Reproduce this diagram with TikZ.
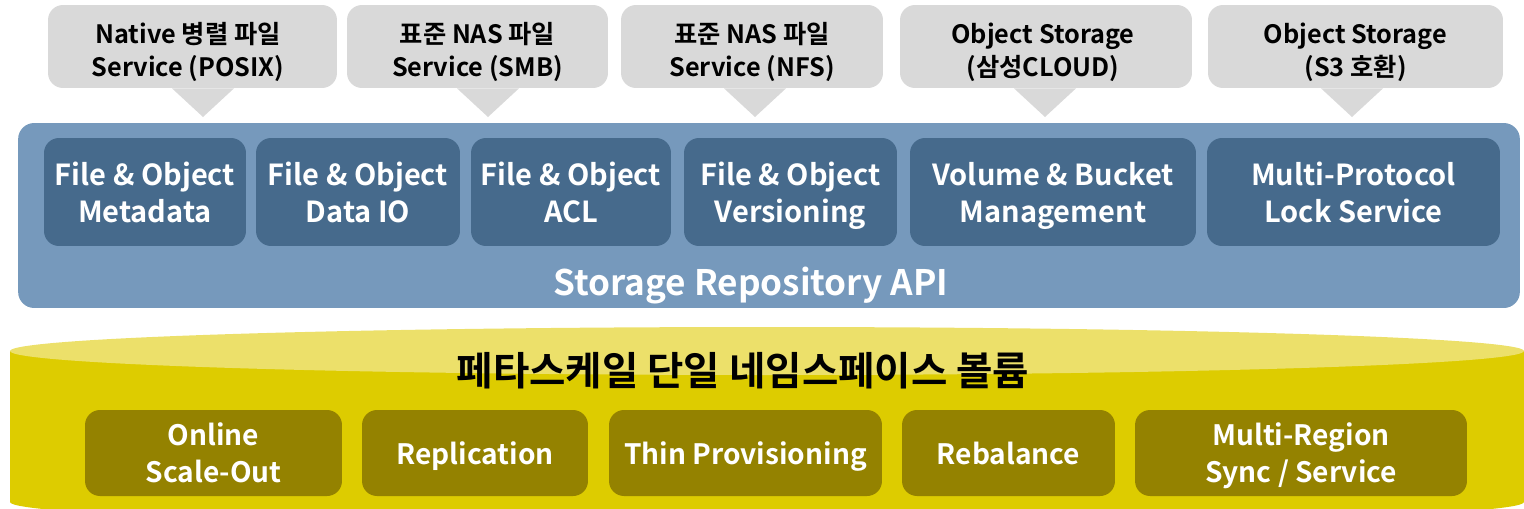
\documentclass[tikz,border=0pt]{standalone}
\usepackage{fontspec}
\setmainfont{Noto Sans CJK KR}[BoldFont={* Bold}]
\usepackage{tikz}
\usetikzlibrary{positioning}

\definecolor{callgray}{RGB}{217,217,217}
\definecolor{apiblue}{RGB}{118,153,188}
\definecolor{modblue}{RGB}{70,106,140}
\definecolor{cyltop}{RGB}{236,224,106}
\definecolor{cylbody}{RGB}{221,204,0}
\definecolor{featolive}{RGB}{148,130,0}

\tikzstyle{callout} = [fill=callgray, rounded corners=0.3cm, minimum height=1.66cm, align=center, font=\fontsize{14.4}{18.6}\selectfont\bfseries]
\tikzstyle{module} = [fill=modblue, rounded corners=0.3cm, minimum height=2.16cm, align=center, text=white, font=\fontsize{16.5}{21}\selectfont\bfseries, text depth=0pt]
\tikzstyle{feature} = [fill=featolive, rounded corners=0.3cm, minimum height=1.72cm, align=center, text=white, font=\fontsize{16}{21}\selectfont\bfseries, text depth=0pt]

\begin{document}
\begin{tikzpicture}[x=0.02cm,y=-0.02cm]
    \useasboundingbox (0,0) rectangle (1524,508);

    % service callouts
        \node[callout, minimum width=5.78cm] (POSIX) at (192.5,46.5) {};
        \node[callout, minimum width=5.22cm] (SMB) at (477.5,46.5) {};
        \node[callout, minimum width=5.24cm] (NFS) at (752,46.5) {};
        \node[callout, minimum width=5.84cm] (CLD) at (1046,46.5) {};
        \node[callout, minimum width=5.9cm] (S3) at (1355.5,46.5) {};
        \node[callout, fill=none] (POSIXtext) at (188,52) {Native 병렬 파일\\Service (POSIX)};
        \node[callout, fill=none] (SMBtext) at (477.5,52) {표준 NAS 파일\\Service (SMB)};
        \node[callout, fill=none] (NFStext) at (752,52) {표준 NAS 파일\\Service (NFS)};
        \node[callout, fill=none] (CLDtext) at (1043,52) {Object Storage\\(삼성CLOUD)};
        \node[callout, fill=none] (S3text) at (1355.5,52) {Object Storage\\(S3 호환)};

        \coordinate (POSIXtip) at (203,117);
        \coordinate (SMBtip) at (488,117);
        \coordinate (NFStip) at (755,117);
        \coordinate (CLDtip) at (1045,117);
        \coordinate (S3tip) at (1352,117);
        \foreach \c in {POSIX,SMB,NFS,CLD,S3}
            \fill[callgray] ([xshift=-31*0.02cm]\c.south -| \c tip) -- (\c tip) -- ([xshift=31*0.02cm]\c.south -| \c tip) -- cycle;

    % storage repository api
        \node[fill=apiblue, rounded corners=0.32cm, minimum width=30.04cm, minimum height=3.7cm] (API) at (769,215.5) {};
        \node[module, minimum width=4.04cm] (MD) at (145,192) {File \& Object\\Metadata};
        \node[module, minimum width=4.08cm] (DIO) at (358,192) {File \& Object\\Data IO};
        \node[module, minimum width=4cm] (ACL) at (571,192) {File \& Object\\ACL};
        \node[module, minimum width=4.26cm] (VER) at (790.5,192) {File \& Object\\Versioning};
        \node[module, minimum width=5.72cm] (VOL) at (1053,192) {Volume \& Bucket\\Management};
        \node[module, minimum width=5.86cm] (LCK) at (1353.5,192) {Multi-Protocol\\Lock Service};
        \node[text=white, font=\fontsize{20}{24}\selectfont\bfseries] (APIlabel) at (751,286) {Storage Repository API};

    % petascale volume
        \fill[cylbody] (10,351) -- (10,502) arc[start angle=180, end angle=360, x radius=757, y radius=-24] -- (1524,351) -- cycle;
        \fill[cyltop] (767,351) ellipse[x radius=757, y radius=24];
        \node[font=\fontsize{22.5}{26}\selectfont\bfseries] (VOLtitle) at (743,371) {페타스케일 단일 네임스페이스 볼륨};

        \node[feature, minimum width=5.14cm] (SCL) at (213.5,453) {Online\\Scale-Out};
        \node[feature, minimum width=4.52cm] (REP) at (475,453) {Replication};
        \node[feature, minimum width=5.46cm] (THN) at (745.5,453) {Thin Provisioning};
        \node[feature, minimum width=4.26cm] (REB) at (1008.5,453) {Rebalance};
        \node[feature, minimum width=6.64cm] (MRG) at (1301,453) {Multi-Region\\Sync / Service};

    \end{tikzpicture}
\end{document}
